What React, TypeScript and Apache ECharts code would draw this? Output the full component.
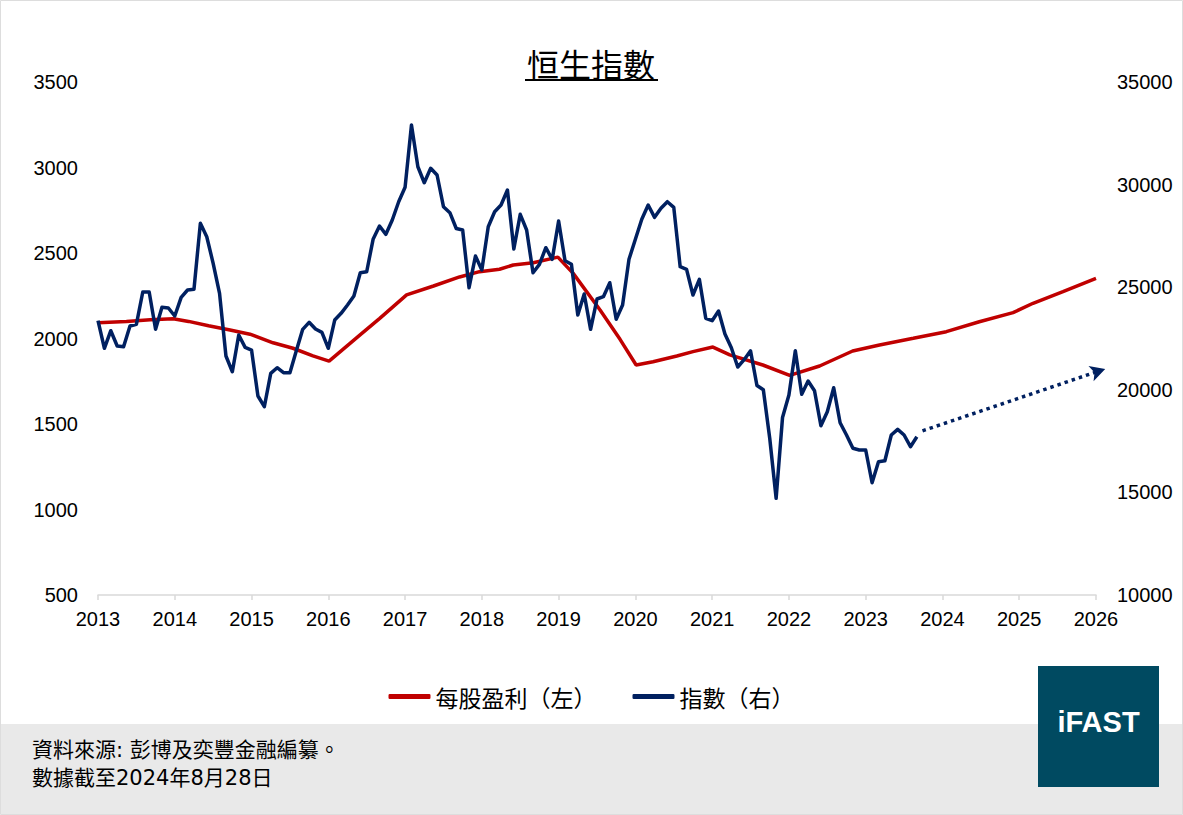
import { useEffect, useRef } from 'react';
import * as echarts from 'echarts';

// x-axis years
const years = [2013, 2026];

// 每股盈利 (left axis) knots: [year, value]
const epsYears = [
  2013.0, 2013.37, 2013.68, 2013.98, 2014.18, 2014.44, 2014.72, 2014.98, 2015.28, 2015.54,
  2015.8, 2016.01, 2016.41, 2016.67, 2017.02, 2017.37, 2017.71, 2017.97, 2018.23, 2018.41,
  2018.67, 2018.99, 2019.19, 2019.54, 2019.8, 2020.01, 2020.23, 2020.54, 2020.75, 2021.01,
  2021.23, 2021.66, 2022.01, 2022.4, 2022.83, 2023.18, 2023.62, 2024.05, 2024.48, 2024.92,
  2025.18, 2025.57, 2026.0,
];
const epsValues = [
  2092, 2100, 2110, 2115, 2100, 2075, 2050, 2025, 1975, 1943,
  1898, 1868, 2020, 2118, 2255, 2307, 2360, 2391, 2405, 2430,
  2443, 2476, 2381, 2167, 1995, 1845, 1864, 1898, 1923, 1950,
  1904, 1845, 1784, 1839, 1927, 1962, 2001, 2040, 2098, 2151,
  2206, 2274, 2352,
];

// 指數 (right axis), monthly from Jan 2013
const indexValues = [
  23367, 22022, 22879, 22134, 22100, 23108, 23191, 24765, 24765, 22947,
  24020, 23986, 23596, 24507, 24863, 24897, 28113, 27460, 26164, 24702,
  21646, 20881, 22670, 22070, 21939, 19697, 19176, 20803, 21076, 20833,
  20833, 21900, 22947, 23289, 22962, 22801, 22022, 23401, 23727, 24132,
  24570, 25706, 25754, 27333, 27981, 27577, 28274, 29166, 29867, 32903,
  30871, 30091, 30793, 30467, 28922, 28630, 27860, 27786, 24975, 26519,
  25837, 27947, 28678, 29005, 29736, 26861, 28551, 27786, 25706, 26115,
  26924, 26359, 28225, 26291, 26115, 23644, 24668, 22947, 24424, 24536,
  25219, 23435, 24132, 26359, 27333, 28308, 29005, 28405, 28844, 29166,
  28893, 25998, 25871, 24619, 25384, 23484, 23367, 23839, 22719, 22046,
  21110, 21466, 21900, 20209, 20004, 17636, 14712, 18650, 19746, 21905,
  19780, 20428, 19956, 18250, 18932, 20102, 18396, 17797, 17149, 17066,
  17066, 15472, 16496, 16544, 17797, 18074, 17797, 17227, 17714,
];

// projection arrow: [year, value]
const trendFrom = [2023.74, 18000];
const trendTo = [2026.12, 21018];

const leftTicks = [500, 3500, 500];
const rightTicks = [10000, 35000, 5000];

const NAVY = '#002060';
const RED = '#C00000';
const LATIN = '"Liberation Sans", Arial, "Noto Sans CJK TC", sans-serif';
const CJK = '"Noto Sans CJK TC", "Liberation Sans", sans-serif';
const NOTE = '"DejaVu Sans", "Noto Sans CJK TC", sans-serif';

export default function App() {
  const ref = useRef<HTMLDivElement>(null);

  useEffect(() => {
    if (!ref.current) return;
    const chart = echarts.init(ref.current, undefined, { renderer: 'svg' });

    const epsData = epsYears.map((y, i) => [y, epsValues[i]]);
    const indexData = indexValues.map((v, i) => [years[0] + i / 12, v]);
    const plain = (v: number) => String(Math.round(v));

    chart.setOption({
      animation: false,
      backgroundColor: '#ffffff',
      grid: { left: 98, right: 87, top: 82, bottom: 220 },
      legend: {
        left: 'center',
        top: 680,
        icon: 'roundRect',
        itemWidth: 42,
        itemHeight: 5,
        itemGap: 36,
        textStyle: { fontFamily: CJK, fontSize: 23, color: '#000', padding: [0, 0, 0, 0] },
        data: ['每股盈利（左）', '指數（右）'],
      },
      xAxis: {
        type: 'value',
        min: years[0],
        max: years[1],
        interval: 1,
        splitLine: { show: false },
        axisLine: { show: true, lineStyle: { color: '#D9D9D9', width: 1.5 } },
        axisTick: { show: true, length: 5, lineStyle: { color: '#D9D9D9', width: 1.5 } },
        axisLabel: { margin: 14, fontFamily: LATIN, fontSize: 20, color: '#000', formatter: plain },
      },
      yAxis: [
        {
          type: 'value',
          min: leftTicks[0],
          max: leftTicks[1],
          interval: leftTicks[2],
          splitLine: { show: false },
          axisLine: { show: false },
          axisTick: { show: false },
          axisLabel: { margin: 20, fontFamily: LATIN, fontSize: 20, color: '#000', formatter: plain },
        },
        {
          type: 'value',
          min: rightTicks[0],
          max: rightTicks[1],
          interval: rightTicks[2],
          position: 'right',
          splitLine: { show: false },
          axisLine: { show: false },
          axisTick: { show: false },
          axisLabel: { margin: 21, fontFamily: LATIN, fontSize: 20, color: '#000', formatter: plain },
        },
      ],
      series: [
        {
          name: '每股盈利（左）',
          type: 'line',
          yAxisIndex: 0,
          data: epsData,
          showSymbol: false,
          symbol: 'none',
          itemStyle: { color: RED },
          lineStyle: { color: RED, width: 3.5 },
          z: 2,
        },
        {
          name: '指數（右）',
          type: 'line',
          yAxisIndex: 1,
          data: indexData,
          showSymbol: false,
          symbol: 'none',
          itemStyle: { color: NAVY },
          lineStyle: { color: NAVY, width: 3.5, join: 'round' },
          z: 3,
        },
        {
          type: 'line',
          yAxisIndex: 1,
          clip: false,
          symbol: 'none',
          showSymbol: true,
          data: [
            { value: trendFrom },
            {
              value: trendTo,
              symbol: 'arrow',
              symbolSize: [12, 15],
              symbolRotate: -71.4,
              itemStyle: { color: NAVY },
            },
          ],
          lineStyle: { color: NAVY, width: 3.5, type: [3.5, 4] },
          itemStyle: { color: NAVY },
          z: 3,
        },
      ],
      graphic: [
        {
          type: 'rect',
          shape: { x: 0.5, y: 0.5, width: 1182, height: 814 },
          style: { fill: 'none', stroke: '#DDDDDD', lineWidth: 1 },
          silent: true,
          z: -10,
        },
        {
          type: 'text',
          x: 591,
          y: 63,
          style: {
            text: '恒生指數',
            fontFamily: CJK,
            fontSize: 32,
            fill: '#000',
            align: 'center',
            verticalAlign: 'middle',
          },
        },
        {
          type: 'line',
          shape: { x1: 525, y1: 80, x2: 658, y2: 80 },
          style: { stroke: '#000', lineWidth: 2 },
        },
        {
          type: 'rect',
          shape: { x: 1, y: 724, width: 1181, height: 90 },
          style: { fill: '#E9E9E9' },
          z: -5,
        },
        {
          type: 'text',
          x: 32,
          y: 750,
          style: {
            text: '資料來源: 彭博及奕豐金融編纂。',
            fontFamily: NOTE,
            fontSize: 21,
            fill: '#000',
            verticalAlign: 'middle',
          },
        },
        {
          type: 'text',
          x: 32,
          y: 778,
          style: {
            text: '數據截至2024年8月28日',
            fontFamily: NOTE,
            fontSize: 21,
            fill: '#000',
            verticalAlign: 'middle',
          },
        },
        {
          type: 'rect',
          shape: { x: 1038, y: 666, width: 121, height: 121 },
          style: { fill: '#004A61' },
          z: 5,
        },
        {
          type: 'text',
          x: 1098.5,
          y: 722,
          style: {
            text: 'iFAST',
            fontFamily: LATIN,
            fontSize: 29,
            fontWeight: 'bold',
            fill: '#ffffff',
            align: 'center',
            verticalAlign: 'middle',
          },
          z: 6,
        },
      ],
    });

    return () => chart.dispose();
  }, []);

  return (
    <div
      ref={ref}
      style={{ position: 'absolute', left: 0, top: 0, width: 1183, height: 815 }}
    />
  );
}
